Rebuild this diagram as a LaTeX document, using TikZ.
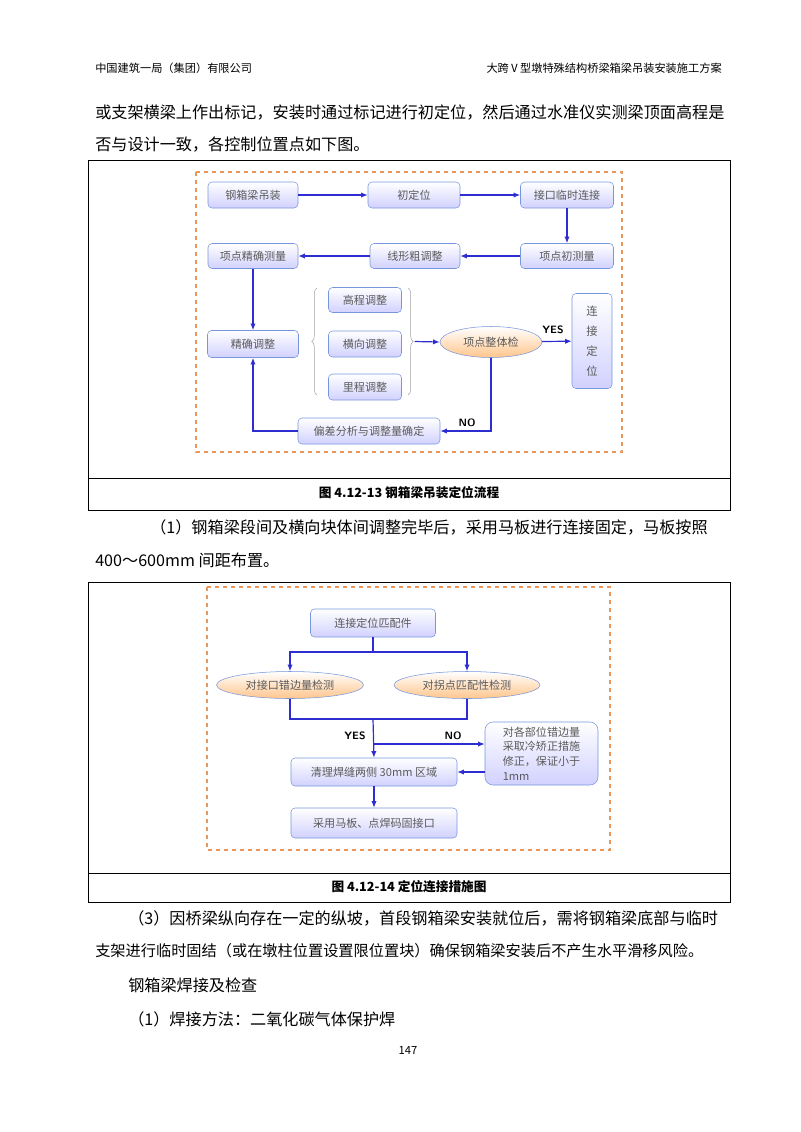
\documentclass[tikz,border=0pt]{standalone}
\usepackage{fontspec}
\setmainfont{Noto Sans CJK SC}
\usetikzlibrary{arrows.meta,shapes.geometric,decorations.pathreplacing}
\definecolor{ln}{RGB}{45,45,210}
\definecolor{bx}{RGB}{120,150,220}
\definecolor{tx}{RGB}{90,90,90}
\definecolor{dashorange}{RGB}{235,150,90}
\tikzset{
 fbox/.style={draw=bx,rounded corners=3pt,top color=white,bottom color=blue!18,text=tx,font=\fontsize{8.3}{10}\selectfont,inner sep=0pt},
 fell/.style={ellipse,draw=bx,top color=white,bottom color=orange!45,text=tx,font=\fontsize{8.3}{10}\selectfont,inner sep=0pt},
 arr/.style={draw=ln,line width=0.9pt,-{Latex[length=5pt,width=4pt]}},
 lnn/.style={draw=ln,line width=0.9pt},
 body/.style={anchor=west,font=\fontsize{12.1}{14}\selectfont,inner sep=0pt},
 lab/.style={font=\sffamily\bfseries\fontsize{8}{9}\selectfont,inner sep=0pt},
 brc/.style={draw=gray!70,decorate,decoration={brace,amplitude=4pt}},
 sz/.style n args={2}{minimum width=#1*0.75pt,minimum height=#2*0.75pt},
}
\begin{document}
\begin{tikzpicture}[x=0.75pt,y=-0.75pt]
\useasboundingbox (0,0) rectangle (800,1132);
% header
\node[anchor=west,font=\fontsize{8.4}{10}\selectfont,inner sep=0pt] (h1) at (95,68) {中国建筑一局（集团）有限公司};
\node[anchor=east,font=\fontsize{8.4}{10}\selectfont,inner sep=0pt] (h2) at (722,68) {大跨Ⅴ型墩特殊结构桥梁箱梁吊装安装施工方案};
\node[body] (t1) at (95,113) {或支架横梁上作出标记，安装时通过标记进行初定位，然后通过水准仪实测梁顶面高程是};
\node[body] (t2) at (95,145) {否与设计一致，各控制位置点如下图。};
% figure 1 frame
\draw[line width=0.6pt] (88,160) rectangle (730,510);
\draw[line width=0.6pt] (88,478) -- (730,478);
\node[font=\bfseries\fontsize{9.5}{11}\selectfont,inner sep=0pt] (c1) at (409,493) {图 4.12-13 钢箱梁吊装定位流程};
\draw[dashorange,dashed,line width=1pt] (196,172) rectangle (622,452);
\node[fbox,sz={90}{26}] (a1) at (253,195) {钢箱梁吊装};
\node[fbox,sz={92}{26}] (a2) at (414,195) {初定位};
\node[fbox,sz={93}{26}] (a3) at (567,195) {接口临时连接};
\node[fbox,sz={90}{25}] (b1) at (253,256) {项点精确测量};
\node[fbox,sz={90}{25}] (b2) at (415,256) {线形粗调整};
\node[fbox,sz={93}{25}] (b3) at (567,256) {项点初测量};
\node[fbox,sz={91}{27}] (c0) at (253,344) {精确调整};
\node[fbox,sz={73}{25}] (g1) at (365,300) {高程调整};
\node[fbox,sz={73}{26}] (g2) at (365,344) {横向调整};
\node[fbox,sz={73}{26}] (g3) at (365,387) {里程调整};
\node[fell,sz={102}{31}] (e1) at (491,342) {项点整体检};
\node[fbox,sz={40}{95},align=center,font=\fontsize{8.5}{15}\selectfont] (d1) at (592,341) {连\\接\\定\\位};
\node[fbox,sz={142}{26}] (f1) at (369,431) {偏差分析与调整量确定};
\draw[brc] (317,395) -- (317,288) coordinate[midway] (lb);
\draw[brc] (408,288) -- (408,395) coordinate[midway,xshift=5pt] (rb);
\draw[arr] (a1) -- (a2);
\draw[arr] (a2) -- (a3);
\draw[arr] (a3) -- (b3);
\draw[arr] (b3) -- (b2);
\draw[arr] (b2) -- (b1);
\draw[arr] (b1) -- (c0);
\draw[arr] (rb) -- (e1.west);
\draw[arr] (e1) -- (d1);
\draw[arr] (e1.south) |- (f1.east);
\draw[arr] (f1.west) -| (c0.south);
\node[lab] (yes1) at (553,330) {YES};
\node[lab] (no1) at (467,423) {NO};
% paragraph
\node[body] (t3) at (150,527) {（1）钢箱梁段间及横向块体间调整完毕后，采用马板进行连接固定，马板按照};
\node[body] (t4) at (95,560) {400～600mm 间距布置。};
% figure 2 frame
\draw[line width=0.6pt] (88,582) rectangle (730,902);
\draw[line width=0.6pt] (88,873) -- (730,873);
\node[font=\bfseries\fontsize{9.5}{11}\selectfont,inner sep=0pt] (c2) at (409,887) {图 4.12-14 定位连接措施图};
\draw[dashorange,dashed,line width=0.8pt] (207,587) rectangle (610,850);
\node[fbox,sz={125}{28}] (p1) at (373,623) {连接定位匹配件};
\node[fell,sz={147}{27}] (q1) at (290,685) {对接口错边量检测};
\node[fell,sz={146}{27}] (q2) at (467,685) {对拐点匹配性检测};
\node[fbox,sz={166}{28}] (r1) at (374,772) {清理焊缝两侧 30mm 区域};
\node[fbox,sz={166}{30}] (r2) at (374,823) {采用马板、点焊码固接口};
\node[fbox,sz={113}{63},align=left,rounded corners=6pt,font=\fontsize{8.3}{11}\selectfont] (n1) at (541.5,753.5) {对各部位错边量\\采取冷矫正措施\\修正，保证小于\\1mm};
\coordinate (s0) at (373,652);
\coordinate (m0) at (373,719);
\coordinate (br) at (373,744);
\draw[lnn] (p1.south) -- (s0);
\draw[arr] (s0) -| (q1.north);
\draw[arr] (s0) -| (q2.north);
\draw[lnn] (q1.south) |- (m0);
\draw[lnn] (q2.south) |- (m0);
\draw[arr] (m0) -- (r1.north);
\draw[arr] (br) -- (br -| n1.west);
\draw[arr] (n1.west |- r1.east) -- (r1.east);
\draw[arr] (r1) -- (r2);
\node[lab] (yes2) at (355,736) {YES};
\node[lab] (no2) at (453,736) {NO};
% text after
\node[body] (t5) at (128,918) {（3）因桥梁纵向存在一定的纵坡，首段钢箱梁安装就位后，需将钢箱梁底部与临时};
\node[body,font=\fontsize{11.4}{14}\selectfont] (t6) at (95,951) {支架进行临时固结（或在墩柱位置设置限位置块）确保钢箱梁安装后不产生水平滑移风险。};
\node[body] (t7) at (128,985) {钢箱梁焊接及检查};
\node[body] (t8) at (128,1019) {（1）焊接方法：二氧化碳气体保护焊};
\node[font=\fontsize{8.4}{10}\selectfont,inner sep=0pt] (pg) at (408,1050) {147};
\end{tikzpicture}
\end{document}
